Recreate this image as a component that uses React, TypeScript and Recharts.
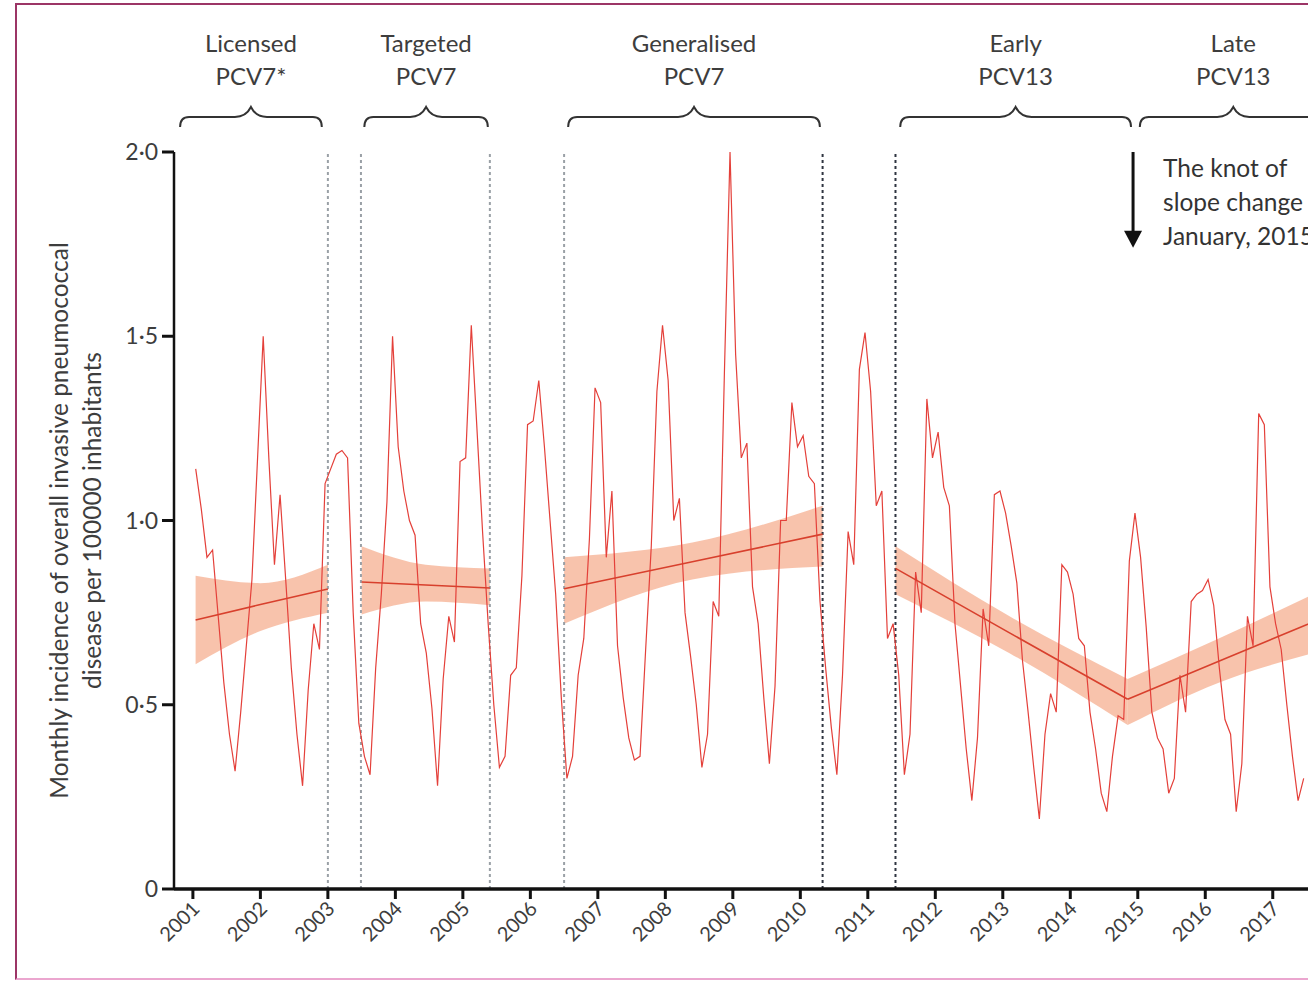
import React from 'react';
import {
  ComposedChart, Line, Area, XAxis, YAxis, ReferenceLine, ReferenceArea,
} from 'recharts';

// monthly incidence of IPD per 100000 inhabitants, Jan..Dec (figure is cut mid-2017)
const inc2001 = [1.14, 1.03, 0.90, 0.92, 0.74, 0.56, 0.42, 0.32, 0.48, 0.66, 0.84, 1.17];
const inc2002 = [1.50, 1.17, 0.88, 1.07, 0.84, 0.60, 0.42, 0.28, 0.54, 0.72, 0.65, 1.10];
const inc2003 = [1.14, 1.18, 1.19, 1.17, 0.75, 0.45, 0.36, 0.31, 0.60, 0.80, 1.05, 1.50];
const inc2004 = [1.20, 1.08, 1.00, 0.96, 0.72, 0.64, 0.49, 0.28, 0.57, 0.74, 0.67, 1.16];
const inc2005 = [1.17, 1.53, 1.25, 0.97, 0.72, 0.50, 0.33, 0.36, 0.58, 0.60, 0.85, 1.26];
const inc2006 = [1.27, 1.38, 1.20, 1.00, 0.80, 0.52, 0.30, 0.36, 0.58, 0.68, 0.95, 1.36];
const inc2007 = [1.32, 0.90, 1.08, 0.66, 0.52, 0.41, 0.35, 0.36, 0.65, 0.93, 1.35, 1.53];
const inc2008 = [1.38, 1.00, 1.06, 0.75, 0.63, 0.50, 0.33, 0.42, 0.78, 0.74, 1.40, 2.00];
const inc2009 = [1.45, 1.17, 1.21, 0.82, 0.72, 0.52, 0.34, 0.55, 1.00, 1.00, 1.32, 1.20];
const inc2010 = [1.23, 1.12, 1.10, 0.78, 0.60, 0.44, 0.31, 0.58, 0.97, 0.88, 1.41, 1.51];
const inc2011 = [1.35, 1.04, 1.08, 0.68, 0.72, 0.58, 0.31, 0.42, 0.86, 0.75, 1.33, 1.17];
const inc2012 = [1.24, 1.09, 1.04, 0.72, 0.55, 0.38, 0.24, 0.41, 0.76, 0.66, 1.07, 1.08];
const inc2013 = [1.02, 0.93, 0.83, 0.62, 0.48, 0.33, 0.19, 0.42, 0.53, 0.48, 0.88, 0.86];
const inc2014 = [0.80, 0.68, 0.66, 0.48, 0.38, 0.26, 0.21, 0.36, 0.47, 0.46, 0.89, 1.02];
const inc2015 = [0.90, 0.71, 0.48, 0.41, 0.38, 0.26, 0.30, 0.58, 0.48, 0.78, 0.80, 0.81];
const inc2016 = [0.84, 0.77, 0.60, 0.46, 0.42, 0.21, 0.34, 0.74, 0.66, 1.29, 1.26, 0.82];
const inc2017 = [0.72, 0.65, 0.50, 0.36, 0.24, 0.30];

const firstYear = 2001;
const incidenceByYear = [
  inc2001, inc2002, inc2003, inc2004, inc2005, inc2006, inc2007, inc2008, inc2009,
  inc2010, inc2011, inc2012, inc2013, inc2014, inc2015, inc2016, inc2017,
];

// segmented regression: fitted line + 95% CI at start / middle / end of each period
const ciX = [
  [2001.04, 2002.0, 2003.0],
  [2003.5, 2004.45, 2005.4],
  [2006.5, 2008.4, 2010.33],
  [2011.41, 2013.1, 2014.85],
  [2014.85, 2016.2, 2017.6],
];
const fitted = [
  [0.73, 0.772, 0.814],
  [0.833, 0.825, 0.817],
  [0.815, 0.888, 0.963],
  [0.87, 0.695, 0.515],
  [0.515, 0.618, 0.725],
];
const ciLow = [
  [0.61, 0.70, 0.75],
  [0.745, 0.78, 0.77],
  [0.72, 0.84, 0.875],
  [0.80, 0.64, 0.445],
  [0.445, 0.56, 0.64],
];
const ciHigh = [
  [0.85, 0.83, 0.88],
  [0.93, 0.88, 0.87],
  [0.90, 0.94, 1.04],
  [0.93, 0.74, 0.57],
  [0.57, 0.68, 0.80],
];

const periodNames = [
  ['Licensed', 'PCV7*'],
  ['Targeted', 'PCV7'],
  ['Generalised', 'PCV7'],
  ['Early', 'PCV13'],
  ['Late', 'PCV13'],
];
const periodFrom = [2000.81, 2003.54, 2006.56, 2011.48, 2015.03];
const periodTo = [2002.91, 2005.37, 2010.29, 2014.9, 2017.8];
const phaseBreaks = [2003.0, 2003.49, 2005.4, 2006.5, 2010.33, 2011.41];

const knotYear = 2014.93;
const knotText = ['The knot of', 'slope change in', 'January, 2015'];

const yearTicks = [2001, 2002, 2003, 2004, 2005, 2006, 2007, 2008, 2009, 2010, 2011, 2012, 2013, 2014, 2015, 2016, 2017];
const incidenceTicks = [0, 0.5, 1, 1.5, 2];

const monthly = incidenceByYear.flatMap((vals, k) =>
  vals.map((v, m) => ({ x: firstYear + k + (m + 0.5) / 12, v })),
);
const segments = ciX.map((xs, s) =>
  xs.map((x, j) => ({ x, fit: fitted[s][j], ci: [ciLow[s][j], ciHigh[s][j]] })),
);

const TEXT = '#3d3d3d';
const FONT = 'Lato, "Open Sans", sans-serif';

const fmtY = (v: number) => (v === 0 ? '0' : v.toFixed(1).replace('.', '\u00B7'));

const YearTick = (props: any) => {
  const { x, y, payload } = props;
  const ax = x + 8;
  const ay = y + 9;
  return (
    <text x={ax} y={ay} transform={`rotate(-45, ${ax}, ${ay})`} textAnchor="end"
      fontSize={20} fill={TEXT} fontFamily={FONT}>
      {payload.value}
    </text>
  );
};

const AxisTitle = (props: any) => {
  const vb = props.viewBox || {};
  const cy = vb.y + vb.height / 2;
  const x1 = vb.x - 46;
  const x2 = vb.x - 13;
  return (
    <g fill={TEXT} fontFamily={FONT} fontSize={24.5}>
      <text transform={`translate(${x1}, ${cy}) rotate(-90)`} textAnchor="middle">
        Monthly incidence of overall invasive pneumococcal
      </text>
      <text transform={`translate(${x2}, ${cy}) rotate(-90)`} textAnchor="middle">
        disease per 100000 inhabitants
      </text>
    </g>
  );
};

const makeBrace = (lines: string[]) => (props: any) => {
  const { x, y, width, height } = props;
  const left = x;
  const right = x + width;
  const mid = x + width / 2;
  const lineY = y + height;
  const endY = lineY + 10;
  const d = `M${left},${endY} Q${left},${lineY} ${left + 9},${lineY} L${mid - 16},${lineY} `
    + `Q${mid - 5},${lineY} ${mid},${y} Q${mid + 5},${lineY} ${mid + 16},${lineY} `
    + `L${right - 9},${lineY} Q${right},${lineY} ${right},${endY}`;
  return (
    <g>
      <path d={d} fill="none" stroke="#333" strokeWidth={2} />
      <text x={mid} y={y - 55} textAnchor="middle" fontSize={24} fill={TEXT} fontFamily={FONT}>{lines[0]}</text>
      <text x={mid} y={y - 22} textAnchor="middle" fontSize={24} fill={TEXT} fontFamily={FONT}>{lines[1]}</text>
    </g>
  );
};

const KnotArrow = (props: any) => {
  const { x, y, width, height } = props;
  const cx = x + width / 2;
  const tip = y + height;
  return (
    <g>
      <line x1={cx} y1={y} x2={cx} y2={tip - 12} stroke="#111" strokeWidth={3} />
      <polygon points={`${cx - 9},${tip - 17} ${cx + 9},${tip - 17} ${cx},${tip}`} fill="#111" />
      {knotText.map((t, i) => (
        <text key={t} x={cx + 30} y={y + 25 + i * 34} fontSize={24.5} fill="#333" fontFamily={FONT}>{t}</text>
      ))}
    </g>
  );
};

export default function App() {
  return (
    <div style={{ position: 'absolute', left: 0, top: 0, width: 1308, height: 981, overflow: 'hidden', background: '#fff', fontFamily: FONT }}>
      <div style={{
        position: 'absolute', left: 15, top: 3, width: 1400, height: 977, boxSizing: 'border-box',
        borderTop: '2px solid #9c3566', borderLeft: '2px solid #9c3566', borderBottom: '2px solid #eba6cf',
      }} />
      <div style={{ position: 'absolute', left: 0, top: 0 }}>
        <ComposedChart width={1384} height={981} margin={{ top: 152, right: 10, bottom: 20, left: 114 }}>
          <XAxis
            dataKey="x"
            type="number"
            domain={[2000.72, 2018.5]}
            ticks={yearTicks}
            allowDataOverflow
            height={72}
            axisLine={{ stroke: '#111', strokeWidth: 3.5 }}
            tickLine={{ stroke: '#111', strokeWidth: 3 }}
            tickSize={10}
            tickMargin={2}
            tick={<YearTick />}
            interval={0}
          />
          <YAxis
            type="number"
            domain={[0, 2]}
            ticks={incidenceTicks}
            width={60}
            axisLine={{ stroke: '#111', strokeWidth: 2.5 }}
            tickLine={{ stroke: '#111', strokeWidth: 3 }}
            tickSize={12}
            tickMargin={4}
            tick={{ fill: TEXT, fontSize: 23, fontFamily: FONT }}
            tickFormatter={fmtY}
            label={<AxisTitle />}
          />
          {phaseBreaks.map((b, i) => (
            <ReferenceLine key={`brk${i}`} x={b} stroke={i >= 4 ? '#2f3541' : '#9aa0a6'}
              strokeWidth={2} strokeDasharray="3 3" />
          ))}
          <Line data={monthly} dataKey="v" type="linear" stroke="#e4403a" strokeWidth={1.2}
            dot={false} activeDot={false} isAnimationActive={false} />
          {segments.map((d, s) => (
            <Area key={`ci${s}`} data={d} dataKey="ci" type="monotone" stroke="none"
              fill="#f39b74" fillOpacity={0.6} isAnimationActive={false} />
          ))}
          {segments.map((d, s) => (
            <Line key={`fit${s}`} data={d} dataKey="fit" type="linear" stroke="#d8402d" strokeWidth={1.6}
              dot={false} activeDot={false} isAnimationActive={false} />
          ))}
          {periodNames.map((lines, i) => (
            <ReferenceArea key={`br${i}`} x1={periodFrom[i]} x2={periodTo[i]} y1={2.095} y2={2.122}
              ifOverflow="visible" shape={makeBrace(lines)} />
          ))}
          <ReferenceArea x1={knotYear - 0.02} x2={knotYear + 0.02} y1={1.74} y2={2.0}
            ifOverflow="visible" shape={<KnotArrow />} />
        </ComposedChart>
      </div>
    </div>
  );
}
